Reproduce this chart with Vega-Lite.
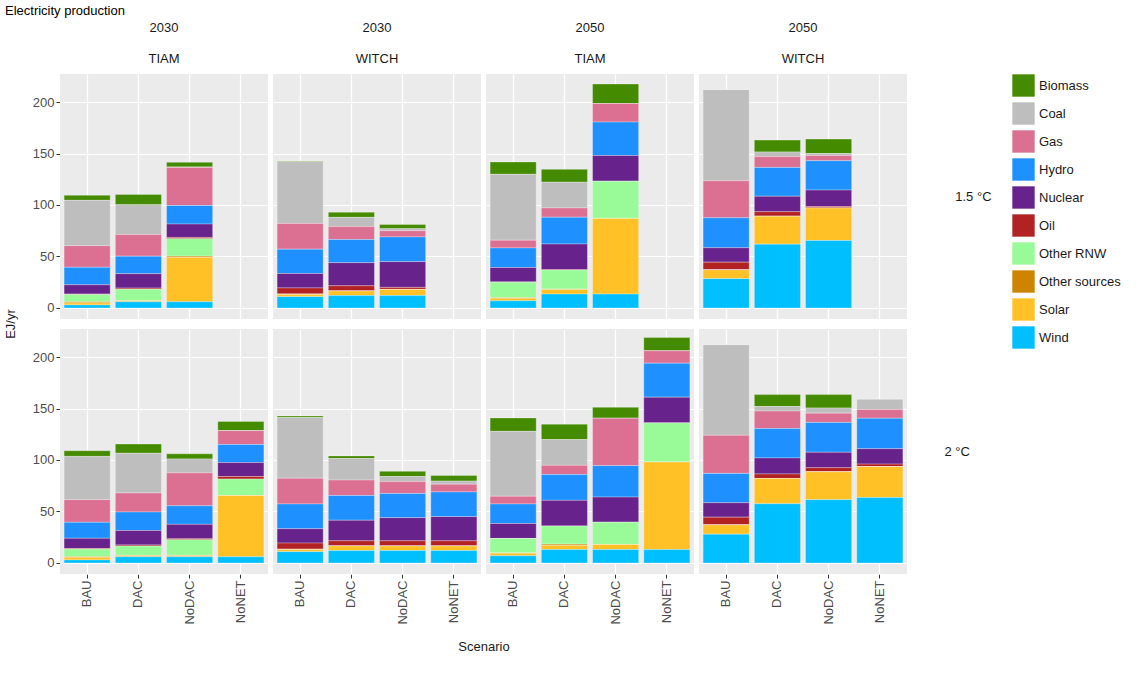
{
  "$schema": "https://vega.github.io/schema/vega-lite/v6.json",
  "title": {"text": "Electricity production", "anchor": "start", "fontSize": 13, "fontWeight": "normal", "font": "Liberation Sans", "offset": 4},
  "data": {"values": [
    {"panel": "2030|TIAM", "target": "1.5 °C", "Scenario": "BAU", "Wind": 3, "Solar": 2, "Other sources": 1, "Other RNW": 7, "Oil": 0.5, "Nuclear": 9, "Hydro": 17, "Gas": 21, "Coal": 44, "Biomass": 5},
    {"panel": "2030|TIAM", "target": "1.5 °C", "Scenario": "DAC", "Wind": 6, "Solar": 1, "Other sources": 0.3, "Other RNW": 11, "Oil": 1, "Nuclear": 14, "Hydro": 17, "Gas": 21, "Coal": 29, "Biomass": 10},
    {"panel": "2030|TIAM", "target": "1.5 °C", "Scenario": "NoDAC", "Wind": 6, "Solar": 43, "Other sources": 1.3, "Other RNW": 17, "Oil": 1.2, "Nuclear": 13, "Hydro": 18, "Gas": 37, "Coal": 0.5, "Biomass": 4.5},
    {"panel": "2030|WITCH", "target": "1.5 °C", "Scenario": "BAU", "Wind": 11, "Solar": 2, "Other sources": 0.5, "Other RNW": 0, "Oil": 6, "Nuclear": 14, "Hydro": 23.6, "Gas": 25, "Coal": 60, "Biomass": 0.5},
    {"panel": "2030|WITCH", "target": "1.5 °C", "Scenario": "DAC", "Wind": 12, "Solar": 4.5, "Other sources": 0, "Other RNW": 0, "Oil": 5, "Nuclear": 22.5, "Hydro": 22.5, "Gas": 12.5, "Coal": 9, "Biomass": 5},
    {"panel": "2030|WITCH", "target": "1.5 °C", "Scenario": "NoDAC", "Wind": 12, "Solar": 6, "Other sources": 0, "Other RNW": 0, "Oil": 2, "Nuclear": 25, "Hydro": 24, "Gas": 6, "Coal": 2, "Biomass": 4},
    {"panel": "2050|TIAM", "target": "1.5 °C", "Scenario": "BAU", "Wind": 7, "Solar": 2.5, "Other sources": 0.5, "Other RNW": 15, "Oil": 0.3, "Nuclear": 14, "Hydro": 19, "Gas": 7.5, "Coal": 64, "Biomass": 12},
    {"panel": "2050|TIAM", "target": "1.5 °C", "Scenario": "DAC", "Wind": 13.5, "Solar": 4.5, "Other sources": 0.3, "Other RNW": 18.5, "Oil": 0.3, "Nuclear": 25, "Hydro": 26, "Gas": 9, "Coal": 25, "Biomass": 12.5},
    {"panel": "2050|TIAM", "target": "1.5 °C", "Scenario": "NoDAC", "Wind": 13.5, "Solar": 73.5, "Other sources": 0, "Other RNW": 36, "Oil": 0, "Nuclear": 25, "Hydro": 32.5, "Gas": 18, "Coal": 0, "Biomass": 19},
    {"panel": "2050|WITCH", "target": "1.5 °C", "Scenario": "BAU", "Wind": 28.5, "Solar": 8.5, "Other sources": 0, "Other RNW": 0, "Oil": 7.5, "Nuclear": 14, "Hydro": 29, "Gas": 36, "Coal": 88.5, "Biomass": 0},
    {"panel": "2050|WITCH", "target": "1.5 °C", "Scenario": "DAC", "Wind": 62, "Solar": 27, "Other sources": 0, "Other RNW": 0, "Oil": 4.5, "Nuclear": 15, "Hydro": 28, "Gas": 10.5, "Coal": 4.5, "Biomass": 11.5},
    {"panel": "2050|WITCH", "target": "1.5 °C", "Scenario": "NoDAC", "Wind": 65.5, "Solar": 31.5, "Other sources": 0, "Other RNW": 0, "Oil": 1.5, "Nuclear": 16, "Hydro": 28.5, "Gas": 5, "Coal": 2, "Biomass": 14},
    {"panel": "2030|TIAM", "target": "2 °C", "Scenario": "BAU", "Wind": 3, "Solar": 2.5, "Other sources": 0.5, "Other RNW": 7.5, "Oil": 0.5, "Nuclear": 10, "Hydro": 15.5, "Gas": 22, "Coal": 42, "Biomass": 5.5},
    {"panel": "2030|TIAM", "target": "2 °C", "Scenario": "DAC", "Wind": 6, "Solar": 1, "Other sources": 0.5, "Other RNW": 9, "Oil": 1, "Nuclear": 14, "Hydro": 18, "Gas": 18.5, "Coal": 38.5, "Biomass": 9},
    {"panel": "2030|TIAM", "target": "2 °C", "Scenario": "NoDAC", "Wind": 6, "Solar": 1, "Other sources": 0.5, "Other RNW": 15, "Oil": 1, "Nuclear": 14, "Hydro": 18, "Gas": 32, "Coal": 13.5, "Biomass": 5},
    {"panel": "2030|TIAM", "target": "2 °C", "Scenario": "NoNET", "Wind": 6, "Solar": 59.5, "Other sources": 0, "Other RNW": 16, "Oil": 2.5, "Nuclear": 13.5, "Hydro": 17.5, "Gas": 13.5, "Coal": 0, "Biomass": 9},
    {"panel": "2030|WITCH", "target": "2 °C", "Scenario": "BAU", "Wind": 11, "Solar": 2, "Other sources": 0.3, "Other RNW": 0, "Oil": 6, "Nuclear": 14, "Hydro": 24, "Gas": 25, "Coal": 59, "Biomass": 1.5},
    {"panel": "2030|WITCH", "target": "2 °C", "Scenario": "DAC", "Wind": 12, "Solar": 4.5, "Other sources": 0, "Other RNW": 0, "Oil": 5, "Nuclear": 20, "Hydro": 24, "Gas": 15, "Coal": 21, "Biomass": 2.5},
    {"panel": "2030|WITCH", "target": "2 °C", "Scenario": "NoDAC", "Wind": 12, "Solar": 4.5, "Other sources": 0, "Other RNW": 0, "Oil": 5, "Nuclear": 22.5, "Hydro": 23.5, "Gas": 11.5, "Coal": 5, "Biomass": 5},
    {"panel": "2030|WITCH", "target": "2 °C", "Scenario": "NoNET", "Wind": 12, "Solar": 4.5, "Other sources": 0, "Other RNW": 0, "Oil": 5, "Nuclear": 23.5, "Hydro": 24, "Gas": 7.5, "Coal": 3, "Biomass": 5.5},
    {"panel": "2050|TIAM", "target": "2 °C", "Scenario": "BAU", "Wind": 7, "Solar": 2.5, "Other sources": 0.3, "Other RNW": 14, "Oil": 0, "Nuclear": 14.5, "Hydro": 19, "Gas": 7.5, "Coal": 63, "Biomass": 13},
    {"panel": "2050|TIAM", "target": "2 °C", "Scenario": "DAC", "Wind": 13, "Solar": 4, "Other sources": 1.3, "Other RNW": 17.5, "Oil": 0, "Nuclear": 25, "Hydro": 25, "Gas": 9, "Coal": 25, "Biomass": 15},
    {"panel": "2050|TIAM", "target": "2 °C", "Scenario": "NoDAC", "Wind": 13, "Solar": 5, "Other sources": 0, "Other RNW": 21.5, "Oil": 0, "Nuclear": 24.5, "Hydro": 30.5, "Gas": 46, "Coal": 0, "Biomass": 10.7},
    {"panel": "2050|TIAM", "target": "2 °C", "Scenario": "NoNET", "Wind": 13, "Solar": 85, "Other sources": 0, "Other RNW": 38, "Oil": 0, "Nuclear": 25, "Hydro": 33, "Gas": 12, "Coal": 0, "Biomass": 13},
    {"panel": "2050|WITCH", "target": "2 °C", "Scenario": "BAU", "Wind": 28, "Solar": 9, "Other sources": 0, "Other RNW": 0, "Oil": 7.5, "Nuclear": 14, "Hydro": 28.5, "Gas": 37, "Coal": 88, "Biomass": 0},
    {"panel": "2050|WITCH", "target": "2 °C", "Scenario": "DAC", "Wind": 57.5, "Solar": 24.5, "Other sources": 0, "Other RNW": 0, "Oil": 4.5, "Nuclear": 15.5, "Hydro": 28.5, "Gas": 17, "Coal": 4.5, "Biomass": 11.5},
    {"panel": "2050|WITCH", "target": "2 °C", "Scenario": "NoDAC", "Wind": 61.5, "Solar": 27, "Other sources": 0, "Other RNW": 0, "Oil": 4, "Nuclear": 15, "Hydro": 29, "Gas": 9, "Coal": 5, "Biomass": 13},
    {"panel": "2050|WITCH", "target": "2 °C", "Scenario": "NoNET", "Wind": 63.5, "Solar": 30, "Other sources": 0, "Other RNW": 0, "Oil": 2.5, "Nuclear": 15, "Hydro": 29.5, "Gas": 8.5, "Coal": 10, "Biomass": 0}
  ]},
  "transform": [
    {"fold": ["Biomass", "Coal", "Gas", "Hydro", "Nuclear", "Oil", "Other RNW", "Other sources", "Solar", "Wind"], "as": ["Source", "value"]}
  ],
  "facet": {
    "column": {"field": "panel", "type": "nominal", "title": "Scenario",
      "header": {"labelExpr": "split(datum.value, '|')", "labelOrient": "top", "titleOrient": "bottom", "titleFontSize": 13, "titleFontWeight": "normal", "titlePadding": 6, "titleColor": "#1a1a1a", "labelFontSize": 13, "labelLineHeight": 31, "labelPadding": 8, "labelFont": "Liberation Sans", "labelColor": "#1a1a1a"}},
    "row": {"field": "target", "type": "nominal", "title": "EJ/yr",
      "header": {"labelOrient": "right", "titleOrient": "left", "titleFontSize": 13, "titleFontWeight": "normal", "titleColor": "#1a1a1a", "titlePadding": 4, "labelAngle": 0, "labelFontSize": 13, "labelFont": "Liberation Sans", "labelAlign": "left", "labelPadding": 12, "labelColor": "#1a1a1a"}}
  },
  "spacing": {"column": 5, "row": 10},
  "spec": {
    "width": 208,
    "height": 245,
    "mark": {"type": "bar", "stroke": "#ffffff", "strokeWidth": 0.3},
    "encoding": {
      "x": {"field": "Scenario", "type": "nominal", "scale": {"domain": ["BAU", "DAC", "NoDAC", "NoNET"], "paddingInner": 0.1, "paddingOuter": 0.08},
        "axis": {"labelAngle": 270, "labelAlign": "right", "labelBaseline": "middle", "title": null, "grid": true}},
      "y": {"field": "value", "type": "quantitative", "stack": "zero", "title": null, "scale": {"domain": [-10.7, 227.2], "nice": false, "zero": false},
        "axis": {"values": [0, 50, 100, 150, 200]}},
      "color": {"field": "Source", "type": "nominal", "title": null,
        "scale": {"domain": ["Biomass", "Coal", "Gas", "Hydro", "Nuclear", "Oil", "Other RNW", "Other sources", "Solar", "Wind"],
          "range": ["#458B00", "#BEBEBE", "#DB7093", "#1E90FF", "#68228B", "#B22222", "#98FB98", "#CD8500", "#FFC125", "#00BFFF"]}},
      "order": {"field": "Source", "sort": "descending"}
    }
  },
  "resolve": {"scale": {"x": "shared", "y": "shared"}},
  "config": {
    "font": "Liberation Sans",
    "view": {"fill": "#EBEBEB", "stroke": null},
    "axis": {"gridColor": "#ffffff", "gridWidth": 1.2, "domain": false, "tickColor": "#333333", "labelColor": "#4d4d4d", "labelFontSize": 13, "tickSize": 4},
    "legend": {"labelFontSize": 13, "symbolType": "square", "symbolSize": 500, "symbolStrokeWidth": 0, "rowPadding": 5, "labelColor": "#1a1a1a", "offset": 20}
  }
}
